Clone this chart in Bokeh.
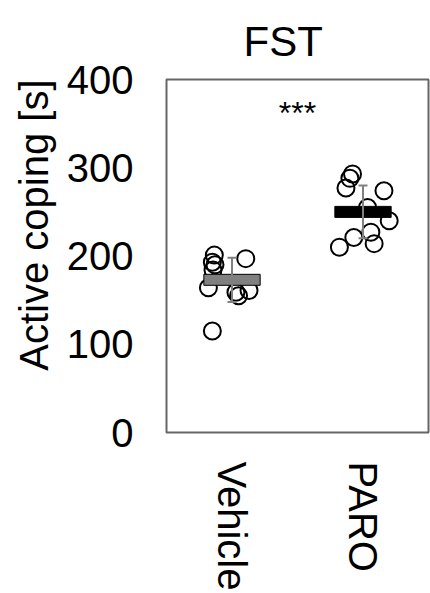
from bokeh.plotting import figure
from bokeh.models import ColumnDataSource, Whisker, TeeHead, FixedTicker, Label, Title
from bokeh.embed import file_html
from bokeh.resources import INLINE

groups = ["Vehicle", "PARO"]
vehicle_vals = [201, 197, 193, 190, 184, 164, 159, 161, 155, 115]
vehicle_jitter = [-0.135, 0.105, -0.15, -0.13, -0.145, -0.18, 0.03, 0.13, 0.05, -0.15]
paro_vals = [293, 288, 277, 274, 255, 240, 221, 227, 210, 214]
paro_jitter = [-0.08, -0.1, -0.13, 0.16, 0.035, 0.2, -0.07, 0.06, -0.18, 0.085]
means = [173, 250]
errors = [25, 30]
mean_colors = ["#808080", "#000000"]
y_ticks = [0, 100, 200, 300, 400]
significance = "***"
y_label = "Active coping [s]"

FONT = "Liberation Sans"

p = figure(width=430, height=593, x_range=groups, y_range=(0, 400),
           output_backend="svg", toolbar_location=None,
           min_border_left=166, min_border_right=2, min_border_top=79, min_border_bottom=161)

p.xgrid.visible = False
p.ygrid.visible = False
p.background_fill_color = "white"
p.outline_line_color = "#666666"
p.outline_line_width = 2

# points
pts_x = [("Vehicle", j) for j in vehicle_jitter] + [("PARO", j) for j in paro_jitter]
pts_y = vehicle_vals + paro_vals
p.scatter(x=pts_x, y=pts_y, size=17, fill_color=None, line_color="black", line_width=2)

# error bars
src = ColumnDataSource(dict(x=groups, upper=[m + e for m, e in zip(means, errors)],
                            lower=[m - e for m, e in zip(means, errors)], mean=means, color=mean_colors))
w = Whisker(base="x", upper="upper", lower="lower", source=src, line_color="#808080", line_width=2,
            upper_head=TeeHead(size=9, line_color="#808080", line_width=2),
            lower_head=TeeHead(size=9, line_color="#808080", line_width=2), level="glyph")
p.add_layout(w)

# mean bars
p.rect(x="x", y="mean", width=0.43, height=11, height_units="screen", source=src,
       fill_color="color", line_color="black", line_width=1)

# significance
p.add_layout(Label(x=1.0, y=362, text=significance, text_font=FONT, text_font_size="32px",
                   text_align="center", text_baseline="middle", text_color="black"))

# title
p.title.text = "FST"
p.title.text_font = FONT
p.title.text_font_size = "42px"
p.title.text_font_style = "normal"
p.title.text_color = "black"
p.title.align = "left"
p.title.offset = 77
p.title.standoff = 29

# axes
p.yaxis.ticker = FixedTicker(ticks=y_ticks)
for ax in (p.xaxis[0], p.yaxis[0]):
    ax.axis_line_color = None
    ax.major_tick_line_color = None
    ax.minor_tick_line_color = None
    ax.major_label_text_font = FONT
    ax.major_label_text_font_size = "40px"
    ax.major_label_text_color = "black"

ya = p.yaxis[0]
ya.major_label_standoff = 27

# y-axis title, placed in the left panel next to the tick labels, aligned to the top of the frame
p.add_layout(Title(text=y_label, align="right", text_font=FONT, text_font_size="40px",
                   text_font_style="normal", text_color="black", standoff=16), "left")

xa = p.xaxis[0]
xa.major_label_orientation = "vertical"
xa.major_label_standoff = 23

open("out.html", "w").write(file_html(p, INLINE))
